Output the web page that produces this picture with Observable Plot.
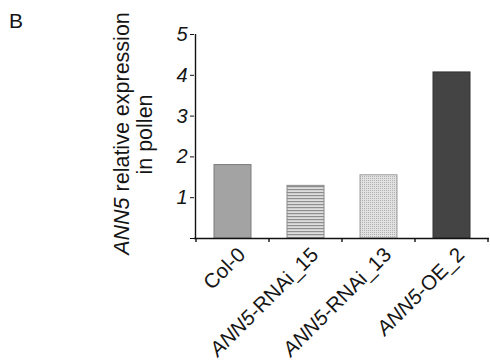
<!DOCTYPE html>
<html><head><meta charset="utf-8">
<script src="https://cdn.jsdelivr.net/npm/d3@7"></script>
<script src="https://cdn.jsdelivr.net/npm/@observablehq/plot@0.6"></script>
<style>body{margin:0;background:#fff} #chart{position:relative;width:490px;height:362px}</style>
</head><body><div id="chart"></div>
<script>
const categories = ["Col-0", "ANN5-RNAi_15", "ANN5-RNAi_13", "ANN5-OE_2"];
const labelItalic = ["", "ANN5", "ANN5", "ANN5"];
const labelRest = ["Col-0", "-RNAi_15", "-RNAi_13", "-OE_2"];
const values = [1.80, 1.29, 1.55, 4.07];
const yTicks = [0, 1, 2, 3, 4, 5];
const fills = ["#a3a3a3", "url(#stripes)", "url(#dots)", "#444444"];
const strokes = ["#7c7c7c", "#8a8a8a", "#a0a0a0", "#333333"];

const data = categories.map((c, i) => ({cat: c, value: values[i]}));
const font = "'Liberation Sans', Arial, Helvetica, sans-serif";

const plot = Plot.plot({
  width: 490, height: 362,
  marginLeft: 194, marginRight: 1, marginTop: 34, marginBottom: 124,
  style: {fontFamily: font, fontSize: "20px", color: "#151515", background: "#fff"},
  x: {domain: categories, paddingInner: 0.5, paddingOuter: 0.25, axis: null},
  y: {domain: [0, 5], axis: null},
  marks: [
    ...categories.map((c, i) => Plot.barY([data[i]], {x: "cat", y: "value", fill: fills[i], stroke: strokes[i], strokeWidth: 1})),
    Plot.ruleY([0], {stroke: "#111", strokeWidth: 1.4}),
    Plot.axisY({ticks: yTicks, tickSize: 4, tickPadding: 3, label: null, tickFormat: d => d === 0 ? "" : String(d),
      fontStyle: "italic", fontSize: 20, stroke: "#111"})
  ]
});

const svg = d3.select(plot);
const defs = svg.insert("defs", ":first-child");
const st = defs.append("pattern").attr("id", "stripes").attr("patternUnits", "userSpaceOnUse")
  .attr("width", 4).attr("height", 3);
st.append("rect").attr("width", 4).attr("height", 3).attr("fill", "#dedede");
st.append("rect").attr("width", 4).attr("height", 1.2).attr("fill", "#8e8e8e");
const dt = defs.append("pattern").attr("id", "dots").attr("patternUnits", "userSpaceOnUse")
  .attr("width", 2).attr("height", 2);
dt.append("rect").attr("width", 2).attr("height", 2).attr("fill", "#e2e2e2");
dt.append("rect").attr("width", 1).attr("height", 1).attr("fill", "#b0b0b0");

const xs = plot.scale("x"), ys = plot.scale("y");
const gap = (xs.step - xs.bandwidth) / 2;
const bounds = categories.map(c => xs.apply(c) - gap);
bounds.push(xs.apply(categories[categories.length - 1]) + xs.bandwidth + gap);
const y0 = ys.apply(0), yTop = ys.apply(5);
const g = svg.append("g").attr("stroke", "#111").attr("stroke-width", 1.4);
g.append("line").attr("x1", bounds[0] - 0.5).attr("x2", bounds[0] - 0.5).attr("y1", yTop).attr("y2", y0);
bounds.forEach(b => g.append("line").attr("x1", b).attr("x2", b).attr("y1", y0).attr("y2", y0 + 4));

const lab = svg.append("g").attr("font-family", font).attr("font-size", 20.5).attr("fill", "#151515");
categories.forEach((c, i) => {
  const cx = xs.apply(c) + xs.bandwidth / 2;
  const t = lab.append("text").attr("text-anchor", "end")
    .attr("transform", `translate(${cx + 14},${y0 + 18}) rotate(-45)`);
  if (labelItalic[i]) t.append("tspan").attr("font-style", "italic").text(labelItalic[i]);
  t.append("tspan").text(labelRest[i]);
});

const title = svg.append("g").attr("font-family", font).attr("font-size", 21.5).attr("fill", "#151515");
const t1 = title.append("text").attr("text-anchor", "middle").attr("transform", "translate(128.5,133.5) rotate(-90)");
t1.append("tspan").attr("font-style", "italic").text("ANN5");
t1.append("tspan").text(" relative expression");
title.append("text").attr("text-anchor", "middle").attr("transform", "translate(152,134.5) rotate(-90)").text("in pollen");
title.append("text").attr("text-anchor", "start").attr("x", 9).attr("y", 28).attr("font-size", 21).text("B");

document.getElementById("chart").appendChild(plot);
</script>
</body></html>
